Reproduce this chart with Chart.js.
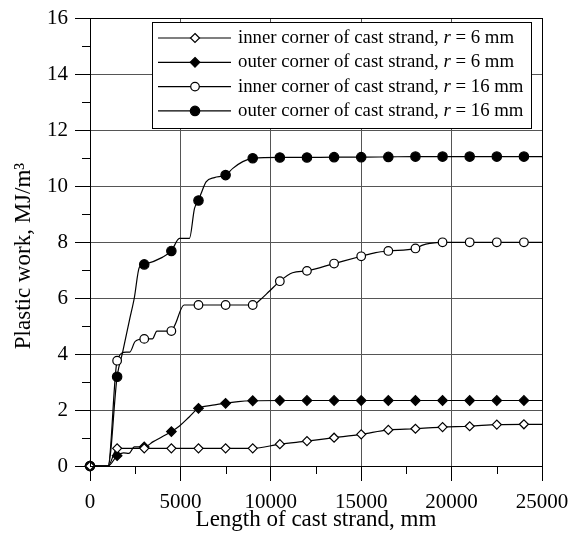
<!DOCTYPE html>
<html>
<head>
<meta charset="utf-8">
<script src="https://cdn.jsdelivr.net/npm/chart.js@4"></script>
<style>
  html, body { margin: 0; padding: 0; background: #fff; }
  #wrap { width: 575px; height: 534px; }
</style>
</head>
<body>
<div id="wrap"><canvas id="chart" width="575" height="534"></canvas></div>
<script>
// values (x in mm, y in MJ/m3)
const innerR6X = [0, 1000, 1500, 3000, 4500, 6000, 7500, 9000, 10500, 12000, 13500, 15000, 16500, 18000, 19500, 21000, 22500, 24000, 25000];
const innerR6Y = [0, 0, 0.63, 0.63, 0.63, 0.63, 0.63, 0.63, 0.78, 0.89, 1.01, 1.13, 1.29, 1.33, 1.39, 1.42, 1.48, 1.49, 1.49];

const outerR6X = [0, 1000, 1500, 1850, 2150, 2450, 3000, 3500, 4500, 4950, 5500, 6000, 6900, 7500, 8200, 9000, 10500, 12000, 13500, 15000, 16500, 18000, 19500, 21000, 22500, 24000, 25000];
const outerR6Y = [0, 0, 0.37, 0.47, 0.45, 0.68, 0.68, 0.87, 1.23, 1.43, 1.76, 2.06, 2.18, 2.24, 2.3, 2.33, 2.34, 2.34, 2.34, 2.34, 2.34, 2.34, 2.34, 2.34, 2.34, 2.34, 2.34];

const innerR16X = [0, 1000, 1500, 2000, 2200, 2500, 3000, 3450, 3700, 4500, 4700, 5200, 6000, 7500, 9000, 9400, 9900, 10500, 11200, 12000, 13500, 15000, 15800, 16500, 18000, 18400, 18800, 19500, 21000, 22500, 24000, 25000];
const innerR16Y = [0, 0, 3.76, 4.07, 4.07, 4.45, 4.54, 4.54, 4.82, 4.82, 5.04, 5.75, 5.75, 5.75, 5.75, 5.93, 6.23, 6.6, 6.9, 6.97, 7.23, 7.49, 7.62, 7.68, 7.77, 7.89, 7.95, 7.99, 7.99, 7.99, 7.99, 7.99];

const outerR16X = [0, 1000, 1500, 1800, 2180, 2450, 2730, 3000, 4000, 4500, 4950, 5500, 5780, 6000, 6150, 6420, 6880, 7500, 7900, 8450, 9000, 10500, 12000, 13500, 15000, 16500, 18000, 19500, 21000, 22500, 24000, 25000];
const outerR16Y = [0, 0, 3.19, 4.05, 5.2, 6.0, 7.1, 7.2, 7.45, 7.68, 8.13, 8.13, 9.2, 9.48, 9.74, 10.15, 10.3, 10.39, 10.63, 10.87, 10.99, 11.02, 11.02, 11.03, 11.03, 11.04, 11.05, 11.05, 11.05, 11.05, 11.05, 11.05];

const seriesNames = ['inner corner of cast strand, ', 'outer corner of cast strand, ', 'inner corner of cast strand, ', 'outer corner of cast strand, '];
const seriesRadius = ['6', '6', '16', '16'];

const xTitle = 'Length of cast strand, mm';
const yTitle = 'Plastic work, MJ/m\u00b3';

const FONT = "'Liberation Serif', 'Times New Roman', serif";
const markerEvery = 1500;

function toPoints(xs, ys) {
  return xs.map((x, i) => ({ x: x, y: ys[i] }));
}

const styles = [
  { shape: 'rectRot', filled: false, r: 4.5 },
  { shape: 'rectRot', filled: true, r: 4.8 },
  { shape: 'circle', filled: false, r: 4.3 },
  { shape: 'circle', filled: true, r: 4.7 },
];

const series = [
  toPoints(innerR6X, innerR6Y),
  toPoints(outerR6X, outerR6Y),
  toPoints(innerR16X, innerR16Y),
  toPoints(outerR16X, outerR16Y),
];

const datasets = series.map((pts, i) => ({
  label: seriesNames[i] + 'r = ' + seriesRadius[i] + ' mm',
  data: pts,
  clip: false,
  borderColor: '#000',
  borderWidth: 1.2,
  backgroundColor: styles[i].filled ? '#000' : '#fff',
  pointStyle: styles[i].shape,
  pointBorderColor: '#000',
  pointBorderWidth: 1.2,
  pointBackgroundColor: styles[i].filled ? '#000' : '#fff',
  pointRadius: (c) => {
    const p = c.raw;
    return p && p.x % markerEvery === 0 && p.x < 25000 ? styles[i].r : 0;
  },
  cubicInterpolationMode: 'monotone',
  fill: false,
}));

function drawMarker(c, st, x, y) {
  c.beginPath();
  if (st.shape === 'rectRot') {
    c.moveTo(x, y - st.r);
    c.lineTo(x + st.r, y);
    c.lineTo(x, y + st.r);
    c.lineTo(x - st.r, y);
    c.closePath();
  } else {
    c.arc(x, y, st.r, 0, Math.PI * 2);
  }
  c.fillStyle = st.filled ? '#000' : '#fff';
  c.fill();
  c.lineWidth = 1.2;
  c.strokeStyle = '#000';
  c.stroke();
}

// boxed legend, frame, minor ticks and the y title
const boxLegend = {
  id: 'boxLegend',
  afterDatasetsDraw(chart) {
    const c = chart.ctx;
    const bx = 152, by = 22, bw = 379, bh = 106;
    c.save();
    c.fillStyle = '#fff';
    c.fillRect(bx, by, bw, bh);
    c.strokeStyle = '#000';
    c.lineWidth = 1;
    c.strokeRect(bx + 0.5, by + 0.5, bw, bh);
    c.textBaseline = 'middle';
    c.textAlign = 'left';
    for (let i = 0; i < seriesNames.length; i++) {
      const y = 38 + i * 24.3;
      c.beginPath();
      c.moveTo(158, y);
      c.lineTo(231, y);
      c.lineWidth = 1.2;
      c.strokeStyle = '#000';
      c.stroke();
      drawMarker(c, styles[i], 195, y);
      c.fillStyle = '#000';
      let tx = 238;
      c.font = '18.8px ' + FONT;
      c.fillText(seriesNames[i], tx, y);
      tx += c.measureText(seriesNames[i]).width;
      c.font = 'italic 18.8px ' + FONT;
      c.fillText('r', tx, y);
      tx += c.measureText('r').width;
      c.font = '18.8px ' + FONT;
      c.fillText(' = ' + seriesRadius[i] + ' mm', tx, y);
    }
    c.restore();
  },
  afterDraw(chart) {
    const c = chart.ctx;
    const a = chart.chartArea;
    const xs = chart.scales.x, ys = chart.scales.y;
    c.save();
    c.strokeStyle = '#000';
    c.lineWidth = 1;
    c.strokeRect(Math.round(a.left) + 0.5, Math.round(a.top) + 0.5, Math.round(a.right - a.left), Math.round(a.bottom - a.top));
    // minor ticks
    c.beginPath();
    for (let v = 2500; v < 25000; v += 5000) {
      const px = Math.round(xs.getPixelForValue(v)) + 0.5;
      c.moveTo(px, a.bottom);
      c.lineTo(px, a.bottom + 8);
    }
    for (let v = 1; v < 16; v += 2) {
      const py = Math.round(ys.getPixelForValue(v)) + 0.5;
      c.moveTo(a.left - 8, py);
      c.lineTo(a.left, py);
    }
    c.stroke();
    // y title, sitting a bit below the axis middle as in the figure
    c.translate(24, (a.top + a.bottom) / 2 + 14);
    c.rotate(-Math.PI / 2);
    c.font = '23px ' + FONT;
    c.fillStyle = '#000';
    c.textAlign = 'center';
    c.textBaseline = 'middle';
    c.fillText(yTitle, 0, 0);
    c.restore();
  },
};

new Chart(document.getElementById('chart'), {
  type: 'line',
  data: { datasets: datasets },
  plugins: [boxLegend],
  options: {
    responsive: false,
    animation: false,
    events: [],
    layout: { padding: { top: 18, right: 33, left: 0, bottom: 0 } },
    plugins: { legend: { display: false }, tooltip: { enabled: false } },
    scales: {
      x: {
        type: 'linear',
        min: 0,
        max: 25000,
        afterFit: (s) => {
          s.height = 68;
          s.paddingLeft = 0;
          s.paddingRight = 0;
        },
        ticks: {
          stepSize: 5000,
          autoSkip: false,
          maxRotation: 0,
          padding: 9,
          color: '#000',
          font: { family: FONT, size: 21 },
          callback: (v) => v,
        },
        grid: {
          color: (c) => (c.tick && c.tick.value > 0 && c.tick.value < 25000 ? '#555' : '#000'),
          tickColor: '#000',
          tickLength: 15,
          lineWidth: 1,
        },
        border: { display: true, color: '#000', width: 1 },
        title: {
          display: true,
          text: xTitle,
          color: '#000',
          font: { family: FONT, size: 23 },
          padding: { top: 0, bottom: 0 },
        },
      },
      y: {
        type: 'linear',
        min: 0,
        max: 16,
        afterFit: (s) => {
          s.width = 90;
          s.paddingTop = 0;
          s.paddingBottom = 0;
        },
        ticks: {
          stepSize: 2,
          padding: 7,
          color: '#000',
          font: { family: FONT, size: 21 },
        },
        grid: {
          color: (c) => (c.tick && c.tick.value > 0 && c.tick.value < 16 ? '#555' : '#000'),
          tickColor: '#000',
          tickLength: 15,
          lineWidth: 1,
        },
        border: { display: true, color: '#000', width: 1 },
      },
    },
  },
});
</script>
</body>
</html>
